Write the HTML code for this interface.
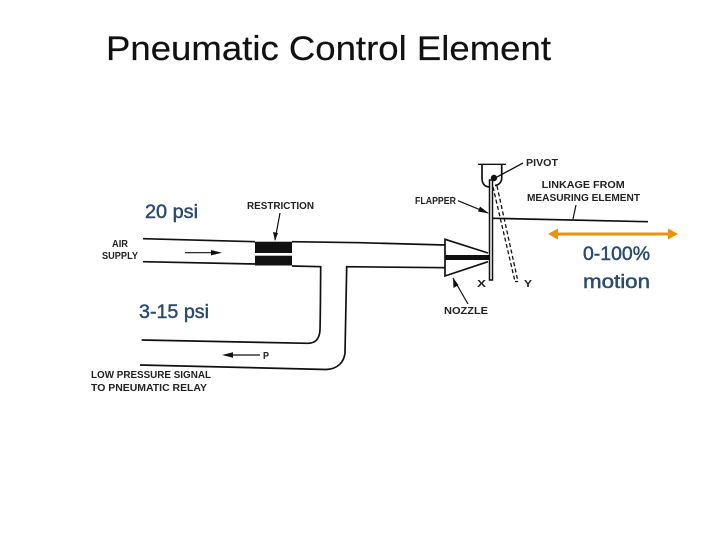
<!DOCTYPE html>
<html>
<head>
<meta charset="utf-8">
<style>
html,body{margin:0;padding:0;background:#fff;width:720px;height:540px;overflow:hidden}
svg{display:block}
text{font-family:"Liberation Sans",sans-serif}
.t{font-size:10px;font-weight:bold;fill:#222}
.b{font-size:19px;font-weight:normal;fill:#2a4a6e;stroke:#2a4a6e;stroke-width:.45px}
.l{fill:none;stroke:#111;stroke-width:1.7}
</style>
</head>
<body>
<svg width="720" height="540" viewBox="0 0 720 540" xmlns="http://www.w3.org/2000/svg">
<rect width="720" height="540" fill="#fff"/>
<text x="106" y="60" font-size="34" fill="#111" stroke="#111" stroke-width=".2" textLength="445" lengthAdjust="spacingAndGlyphs">Pneumatic Control Element</text>

<!-- pipes -->
<path class="l" d="M143 238.7L255 241.7M292 241.7L360 242.7L445 245"/>
<path class="l" d="M143 261.7L255 264M292 266L320.7 266.7C320.5 290 320.5 310 320 330C319.5 338 316 343.3 308 343.3L141.7 340"/>
<path class="l" d="M445 267.7L346.7 266.7C346 300 345.5 330 345 353C344 362 338 369 326 369.5L140 365"/>
<rect x="255" y="241.7" width="37" height="11.3" fill="#111"/>
<rect x="255" y="255.7" width="37" height="9.8" fill="#111"/>

<!-- flow arrows -->
<path d="M185 252.7H214" stroke="#111" stroke-width="1.2"/>
<path d="M222 252.7L211 250V255.4Z" fill="#111"/>
<path d="M230 355H260" stroke="#111" stroke-width="1.2"/>
<path d="M222 355L233 352.3V357.7Z" fill="#111"/>

<!-- nozzle -->
<path d="M488 253L445 239.3V276L488 261.7" fill="none" stroke="#111" stroke-width="1.7"/>
<path d="M445 255H489V260H445Z" fill="#111"/>

<!-- flapper -->
<rect x="489.5" y="180" width="3" height="100" fill="#fff" stroke="#111" stroke-width="1.5"/>
<path d="M497 186L518 281.5M493 187L515 281.5" fill="none" stroke="#111" stroke-width="1.3" stroke-dasharray="4 2.5"/>
<path d="M515 281.5H518" stroke="#111" stroke-width="1.2"/>

<!-- pivot -->
<path d="M478 164.3H506" stroke="#111" stroke-width="1.3"/>
<path class="l" d="M482 164V178C482 184 485 187 490 187M501.7 164V178C501.7 182 499 185 495 185.5"/>
<circle cx="494" cy="178" r="3.2" fill="#111"/>
<path d="M523 163L497 177" stroke="#111" stroke-width="1.3"/>

<!-- linkage -->
<path d="M493 218.3L648 221.7" stroke="#111" stroke-width="1.7"/>
<path d="M576 205L573 219" stroke="#111" stroke-width="1.2"/>

<!-- leaders -->
<path d="M458 200.7L488 213" stroke="#111" stroke-width="1.2"/>
<path d="M489 213.5L480 206.5L478 211.5Z" fill="#111"/>
<path d="M468 304L453 278" stroke="#111" stroke-width="1.2"/>
<path d="M453 278L453.5 288L458.5 285Z" fill="#111"/>
<path d="M280 213L275 240" stroke="#111" stroke-width="1.2"/>
<path d="M275 241L273 232L278 233Z" fill="#111"/>

<!-- orange motion arrow -->
<path d="M555 234H670" stroke="#e8930f" stroke-width="3"/>
<path d="M548 234L558 228.5V239.5Z" fill="#e8930f"/>
<path d="M678 234L668 228.5V239.5Z" fill="#e8930f"/>

<!-- small labels -->
<text class="t" x="526" y="166" textLength="32" lengthAdjust="spacingAndGlyphs">PIVOT</text>
<text class="t" x="541.7" y="188" textLength="83" lengthAdjust="spacingAndGlyphs">LINKAGE FROM</text>
<text class="t" x="527" y="201" textLength="113" lengthAdjust="spacingAndGlyphs">MEASURING ELEMENT</text>
<text class="t" x="415" y="204" textLength="41" lengthAdjust="spacingAndGlyphs">FLAPPER</text>
<text class="t" x="477" y="287" textLength="9" lengthAdjust="spacingAndGlyphs">X</text>
<text class="t" x="524" y="287" textLength="8" lengthAdjust="spacingAndGlyphs">Y</text>
<text class="t" x="444" y="314" textLength="44" lengthAdjust="spacingAndGlyphs">NOZZLE</text>
<text class="t" x="247" y="209" textLength="67" lengthAdjust="spacingAndGlyphs">RESTRICTION</text>
<text class="t" x="112" y="247" textLength="16" lengthAdjust="spacingAndGlyphs">AIR</text>
<text class="t" x="102" y="259" textLength="36" lengthAdjust="spacingAndGlyphs">SUPPLY</text>
<text class="t" x="263" y="359" textLength="6" lengthAdjust="spacingAndGlyphs">P</text>
<text class="t" x="91" y="378" textLength="120" lengthAdjust="spacingAndGlyphs">LOW PRESSURE SIGNAL</text>
<text class="t" x="91" y="391" textLength="116" lengthAdjust="spacingAndGlyphs">TO PNEUMATIC RELAY</text>

<!-- annotations -->
<text class="b" x="145" y="218" textLength="53" lengthAdjust="spacingAndGlyphs">20 psi</text>
<text class="b" x="139" y="318" textLength="70" lengthAdjust="spacingAndGlyphs">3-15 psi</text>
<text class="b" x="583" y="260" textLength="67" lengthAdjust="spacingAndGlyphs">0-100%</text>
<text class="b" x="583" y="288" textLength="67" lengthAdjust="spacingAndGlyphs">motion</text>
</svg>
</body>
</html>
